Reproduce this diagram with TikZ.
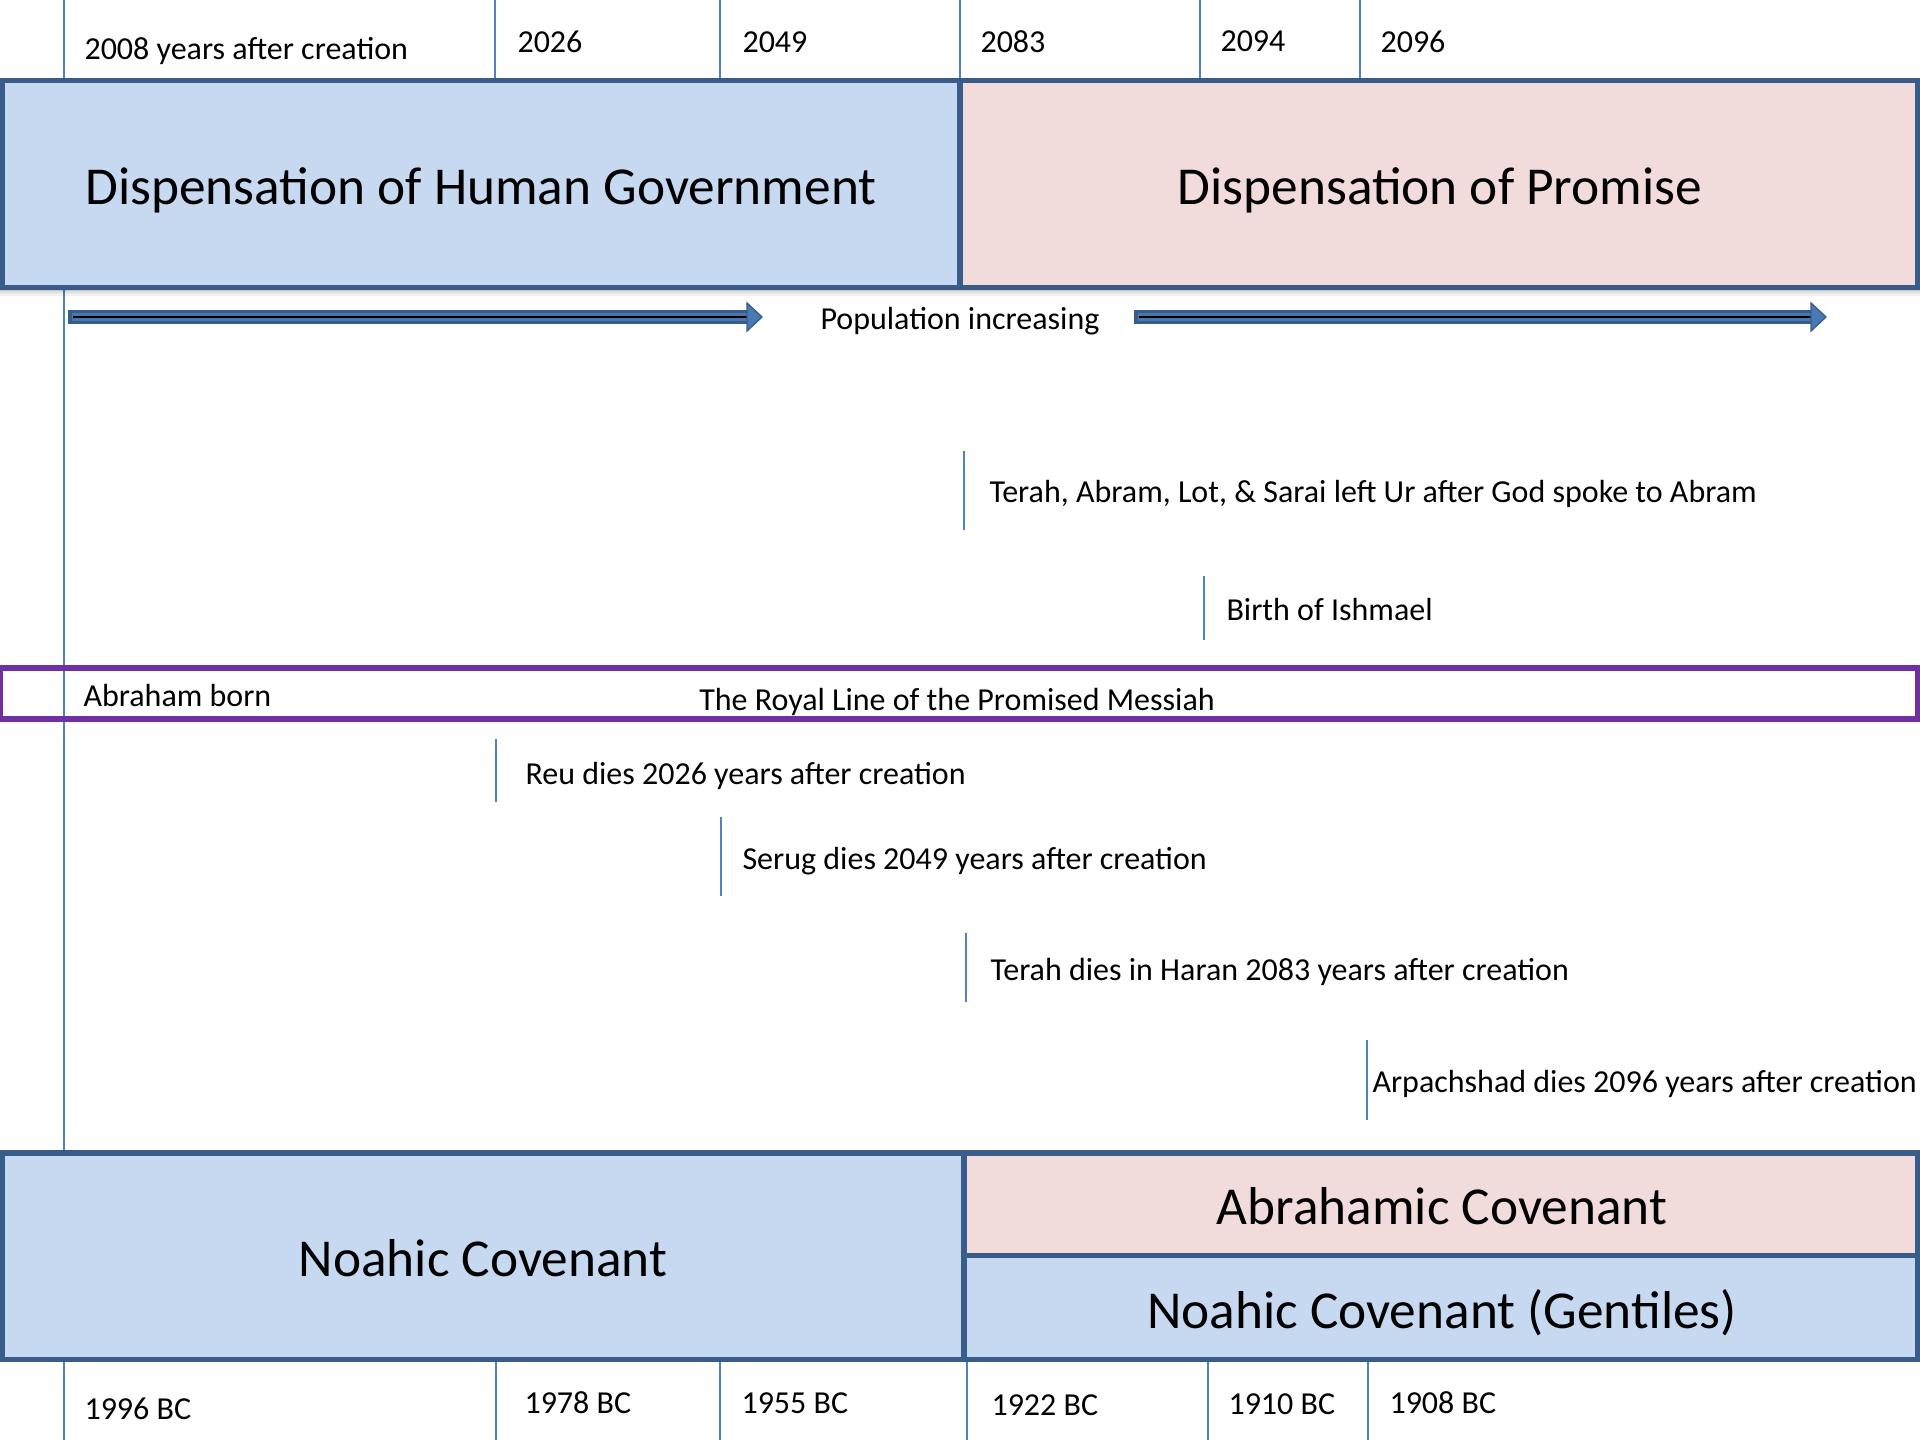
\documentclass[tikz,border=0pt]{standalone}
\usepackage{fontspec}
\setmainfont{Carlito}
\usetikzlibrary{arrows.meta}
\definecolor{boxblue}{HTML}{C6D9F1}
\definecolor{boxpink}{HTML}{F2DCDB}
\definecolor{edgeblue}{HTML}{385D8A}
\definecolor{tickblue}{HTML}{4F81BD}
\definecolor{royal}{HTML}{7030A0}
\tikzset{
  tickline/.style={draw=tickblue, line width=0.6pt},
  smalllbl/.style={anchor=base west, inner sep=0pt, yshift=-0.9pt, font=\fontsize{12}{14}\selectfont},
  midlbl/.style={anchor=base, inner sep=0pt, yshift=-0.9pt, font=\fontsize{12}{14}\selectfont},
  biglbl/.style={anchor=base, inner sep=0pt, yshift=-0.9pt, font=\fontsize{20}{24}\selectfont},
  panel/.style={draw=edgeblue, line width=1.9pt},
}
\begin{document}
\begin{tikzpicture}[x=0.375pt,y=-0.375pt]
\useasboundingbox (0,0) rectangle (1920,1440);
\fill[white] (0,0) rectangle (1920,1440);

% main timeline line
\coordinate (mainT) at (64,0);
\coordinate (mainB) at (64,1151);
\draw[tickline] (mainT) -- (mainB);

% top tick lines
\foreach \x [count=\i] in {495,720,960,1200,1360} {
  \coordinate (tt\i) at (\x,0);
  \coordinate (tb\i) at (\x,82);
  \draw[tickline] (tt\i) -- (tb\i);
}
% bottom tick lines
\foreach \x [count=\i] in {64,496,720,967,1208,1368} {
  \coordinate (bt\i) at (\x,1359);
  \coordinate (bb\i) at (\x,1440);
  \draw[tickline] (bt\i) -- (bb\i);
}

% top labels
\node[smalllbl] (y2008) at (84,57) {2008 years after creation};
\node[smalllbl] (y2026) at (517,50) {2026};
\node[smalllbl] (y2049) at (742,50) {2049};
\node[smalllbl] (y2083) at (980,50) {2083};
\node[smalllbl] (y2094) at (1220,49) {2094};
\node[smalllbl] (y2096) at (1380,50) {2096};

% shadow below top panels
\fill[black,opacity=0.22] (0,289) rectangle (1920,291);
\fill[black,opacity=0.13] (0,291) rectangle (1920,293);
\fill[black,opacity=0.06] (0,293) rectangle (1920,296);

% top panels
\draw[panel, fill=boxblue] (2.5,80.5) rectangle (960,287.5);
\draw[panel, fill=boxpink] (960,80.5) rectangle (1917.5,287.5);
\node[biglbl] (dhg) at (481,202) {Dispensation of Human Government};
\node[biglbl] (dop) at (1440,202) {Dispensation of Promise};

% population arrows
\coordinate (a1s) at (68,317);
\coordinate (a1e) at (748,317);
\coordinate (a2s) at (1134,317);
\coordinate (a2e) at (1812,317);
\foreach \s/\e in {a1s/a1e,a2s/a2e} {
  \draw[line width=5.2pt, draw=edgeblue] (\s) -- (\e);
  \draw[line width=3.2pt, draw=tickblue!70!edgeblue] ([xshift=1.5pt]\s) -- (\e);
  \draw[line width=1.1pt, black] ([xshift=2pt]\s) -- (\e);
}
\fill[tickblue!80!edgeblue, draw=edgeblue, line width=0.5pt] (747,303) -- (762,317) -- (747,331) -- cycle;
\fill[tickblue!80!edgeblue, draw=edgeblue, line width=0.5pt] (1811,303) -- (1826,317) -- (1811,331) -- cycle;
\node[midlbl] (pop) at (960,327) {Population increasing};

% events above royal line
\coordinate (e1t) at (964,451); \coordinate (e1b) at (964,530);
\draw[tickline] (e1t) -- (e1b);
\node[smalllbl] (leftur) at (989,500) {Terah, Abram, Lot, \& Sarai left Ur after God spoke to Abram};
\coordinate (e2t) at (1204,576); \coordinate (e2b) at (1204,640);
\draw[tickline] (e2t) -- (e2b);
\node[smalllbl] (ishmael) at (1226,618) {Birth of Ishmael};

% royal line
\draw[draw=royal, line width=2.1pt, fill=white] (0,668) rectangle (1918,719);
\draw[tickline] (64,671) -- (64,716);
\node[smalllbl] (abborn) at (83,704) {Abraham born};
\node[midlbl] (royalline) at (957,708) {The Royal Line of the Promised Messiah};

% events below royal line
\coordinate (e3t) at (496,739); \coordinate (e3b) at (496,802);
\draw[tickline] (e3t) -- (e3b);
\node[smalllbl] (reu) at (525,782) {Reu dies 2026 years after creation};
\coordinate (e4t) at (721,817); \coordinate (e4b) at (721,896);
\draw[tickline] (e4t) -- (e4b);
\node[smalllbl] (serug) at (742,867) {Serug dies 2049 years after creation};
\coordinate (e5t) at (966,933); \coordinate (e5b) at (966,1002);
\draw[tickline] (e5t) -- (e5b);
\node[smalllbl] (terah) at (990,978) {Terah dies in Haran 2083 years after creation};
\coordinate (e6t) at (1367,1040); \coordinate (e6b) at (1367,1120);
\draw[tickline] (e6t) -- (e6b);
\node[smalllbl] (arpa) at (1372,1090) {Arpachshad dies 2096 years after creation};

% bottom panels
\draw[panel, fill=boxblue] (2.5,1153) rectangle (964,1359.5);
\draw[panel, fill=boxpink] (964,1153) rectangle (1917.5,1255.5);
\draw[panel, fill=boxblue] (964,1255.5) rectangle (1917.5,1359.5);
\node[biglbl] (noahic) at (483,1274) {Noahic Covenant};
\node[biglbl] (abrahamic) at (1442,1222) {Abrahamic Covenant};
\node[biglbl] (gentiles) at (1442,1326) {Noahic Covenant (Gentiles)};

% bottom labels
\node[smalllbl] (b1996) at (84,1417) {1996 BC};
\node[smalllbl] (b1978) at (524,1411) {1978 BC};
\node[smalllbl] (b1955) at (741,1411) {1955 BC};
\node[smalllbl] (b1922) at (991,1413) {1922 BC};
\node[smalllbl] (b1910) at (1228,1412) {1910 BC};
\node[smalllbl] (b1908) at (1389,1411) {1908 BC};
\end{tikzpicture}
\end{document}
